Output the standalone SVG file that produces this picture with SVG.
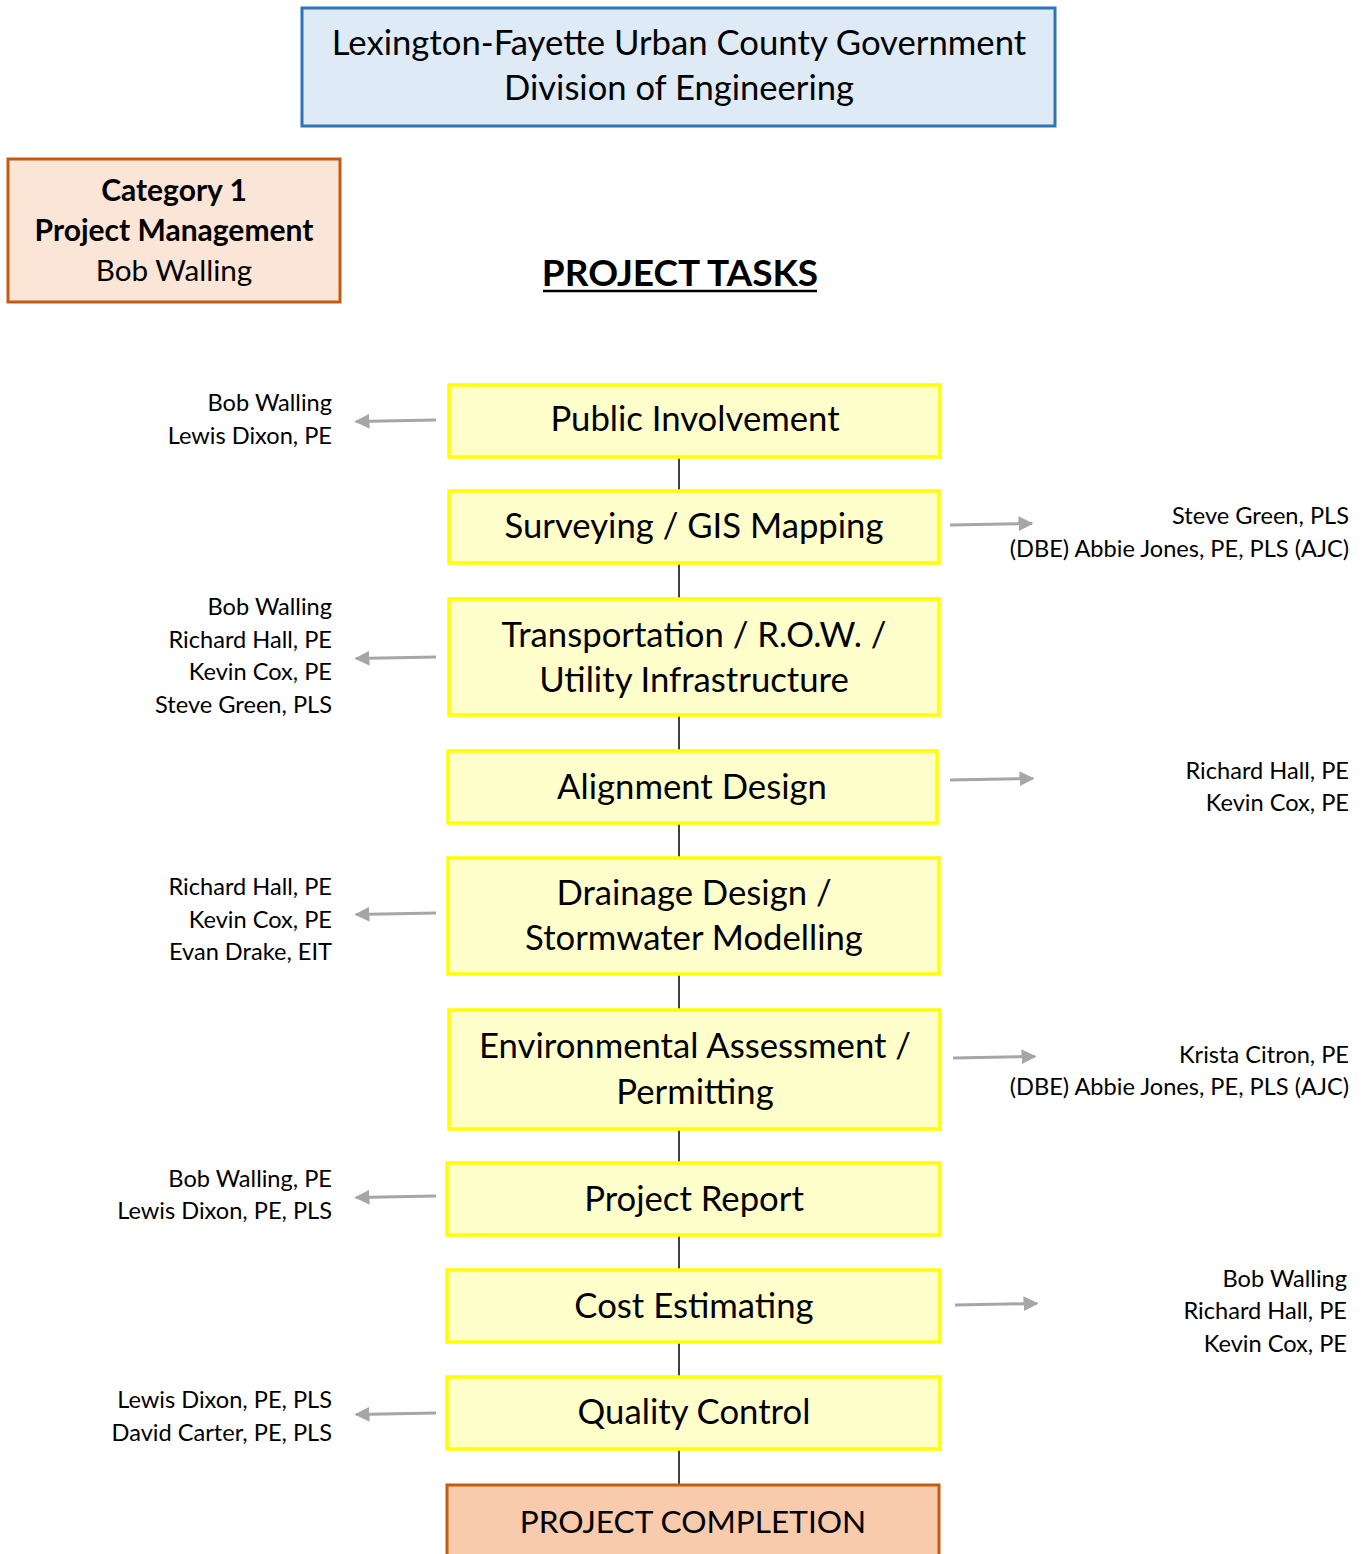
<svg xmlns="http://www.w3.org/2000/svg" width="1367" height="1554" viewBox="0 0 1367 1554">
<defs>
<style>
text{font-family:Lato,"Open Sans","DejaVu Sans",sans-serif;fill:#000}
.task{fill:#FFFFCC;stroke:#FFFF00;stroke-width:3.5}
.big{font-size:34.7px;text-anchor:middle}
.side{font-size:23.6px}
.l{text-anchor:end}
.arr{stroke:#A6A6A6;stroke-width:3;fill:none;marker-end:url(#ah)}
.conn{stroke:#000;stroke-width:1.5}
</style>
<marker id="ah" viewBox="0 0 10 10" refX="9" refY="5" markerWidth="5" markerHeight="5" orient="auto" markerUnits="strokeWidth">
<path d="M0,0 L10,5 L0,10 Z" fill="#A6A6A6"/>
</marker>
</defs>
<rect width="1367" height="1554" fill="#fff"/>

<g id="header">
<rect x="302" y="8" width="753" height="118" fill="#DEEBF7" stroke="#2E75B6" stroke-width="3"/>
<text x="679" y="55" class="big" font-size="34.6">Lexington-Fayette Urban County Government</text>
<text x="679" y="100" class="big" style="font-size:34.6px">Division of Engineering</text>
</g>

<g id="category1">
<rect x="8" y="159" width="332" height="143" fill="#FBE5D6" stroke="#C55A11" stroke-width="3"/>
<text x="174" y="201" font-size="30" font-weight="bold" text-anchor="middle">Category 1</text>
<text x="174" y="241" font-size="30" font-weight="bold" text-anchor="middle">Project Management</text>
<text x="174" y="281" font-size="29.7" text-anchor="middle">Bob Walling</text>
</g>

<g id="title">
<text x="680" y="286" font-size="37" font-weight="bold" text-anchor="middle">PROJECT TASKS</text>
<line x1="543" y1="291" x2="817" y2="291" stroke="#000" stroke-width="2.5"/>
</g>

<g id="connectors">
<line class="conn" x1="679" y1="458" x2="679" y2="490"/>
<line class="conn" x1="679" y1="564" x2="679" y2="598"/>
<line class="conn" x1="679" y1="716" x2="679" y2="750"/>
<line class="conn" x1="679" y1="824" x2="679" y2="857"/>
<line class="conn" x1="679" y1="975" x2="679" y2="1009"/>
<line class="conn" x1="679" y1="1130" x2="679" y2="1162"/>
<line class="conn" x1="679" y1="1236" x2="679" y2="1269"/>
<line class="conn" x1="679" y1="1343" x2="679" y2="1376"/>
<line class="conn" x1="679" y1="1450" x2="679" y2="1484"/>
<path class="arr" d="M436,420 L356,421.5"/>
<path class="arr" d="M436,657 L356,658.5"/>
<path class="arr" d="M436,913 L356,914.5"/>
<path class="arr" d="M436,1196 L356,1197.5"/>
<path class="arr" d="M436,1413 L356,1414.5"/>
<path class="arr" d="M950,525 L1032,523.5"/>
<path class="arr" d="M950,780 L1033,778.5"/>
<path class="arr" d="M953,1058 L1035,1056.5"/>
<path class="arr" d="M955,1305 L1037,1303.5"/>
</g>

<g id="public-involvement">
<rect class="task" x="449" y="385" width="491" height="72"/>
<text x="695" y="431" class="big">Public Involvement</text>
</g>
<g id="surveying">
<rect class="task" x="449" y="491" width="490" height="72"/>
<text x="694" y="538" class="big">Surveying / GIS Mapping</text>
</g>
<g id="transportation">
<rect class="task" x="449" y="599" width="490" height="116"/>
<text x="694" y="647" class="big">Transportation / R.O.W. /</text>
<text x="694" y="692" class="big">Utility Infrastructure</text>
</g>
<g id="alignment">
<rect class="task" x="448" y="751" width="489" height="72"/>
<text x="692" y="799" class="big">Alignment Design</text>
</g>
<g id="drainage">
<rect class="task" x="448" y="858" width="491" height="116"/>
<text x="694" y="905" class="big">Drainage Design /</text>
<text x="694" y="950" class="big">Stormwater Modelling</text>
</g>
<g id="environmental">
<rect class="task" x="449" y="1010" width="491" height="119"/>
<text x="695" y="1058" class="big">Environmental Assessment /</text>
<text x="695" y="1104" class="big">Permitting</text>
</g>
<g id="project-report">
<rect class="task" x="447" y="1163" width="493" height="72"/>
<text x="694" y="1211" class="big">Project Report</text>
</g>
<g id="cost-estimating">
<rect class="task" x="447" y="1270" width="493" height="72"/>
<text x="694" y="1318" class="big">Cost Estimating</text>
</g>
<g id="quality-control">
<rect class="task" x="447" y="1377" width="493" height="72"/>
<text x="694" y="1424" class="big">Quality Control</text>
</g>
<g id="project-completion">
<rect x="447" y="1485" width="492" height="80" fill="#F8CBAD" stroke="#C55A11" stroke-width="3"/>
<text x="693" y="1533" class="big" style="font-size:31.6px">PROJECT COMPLETION</text>
</g>

<g id="staff-public-involvement">
<text x="332" y="411" class="side l">Bob Walling</text>
<text x="332" y="444" class="side l">Lewis Dixon, PE</text>
</g>
<g id="staff-surveying">
<text x="1349" y="524" class="side l">Steve Green, PLS</text>
<text x="1349" y="557" class="side l">(DBE) Abbie Jones, PE, PLS (AJC)</text>
</g>
<g id="staff-transportation">
<text x="332" y="615" class="side l">Bob Walling</text>
<text x="332" y="648" class="side l">Richard Hall, PE</text>
<text x="332" y="680" class="side l">Kevin Cox, PE</text>
<text x="332" y="713" class="side l">Steve Green, PLS</text>
</g>
<g id="staff-alignment">
<text x="1349" y="779" class="side l">Richard Hall, PE</text>
<text x="1349" y="811" class="side l">Kevin Cox, PE</text>
</g>
<g id="staff-drainage">
<text x="332" y="895" class="side l">Richard Hall, PE</text>
<text x="332" y="928" class="side l">Kevin Cox, PE</text>
<text x="332" y="960" class="side l">Evan Drake, EIT</text>
</g>
<g id="staff-environmental">
<text x="1349" y="1063" class="side l">Krista Citron, PE</text>
<text x="1349" y="1095" class="side l">(DBE) Abbie Jones, PE, PLS (AJC)</text>
</g>
<g id="staff-project-report">
<text x="332" y="1187" class="side l">Bob Walling, PE</text>
<text x="332" y="1219" class="side l">Lewis Dixon, PE, PLS</text>
</g>
<g id="staff-cost-estimating">
<text x="1347" y="1287" class="side l">Bob Walling</text>
<text x="1347" y="1319" class="side l">Richard Hall, PE</text>
<text x="1347" y="1352" class="side l">Kevin Cox, PE</text>
</g>
<g id="staff-quality-control">
<text x="332" y="1408" class="side l">Lewis Dixon, PE, PLS</text>
<text x="332" y="1441" class="side l">David Carter, PE, PLS</text>
</g>
</svg>
